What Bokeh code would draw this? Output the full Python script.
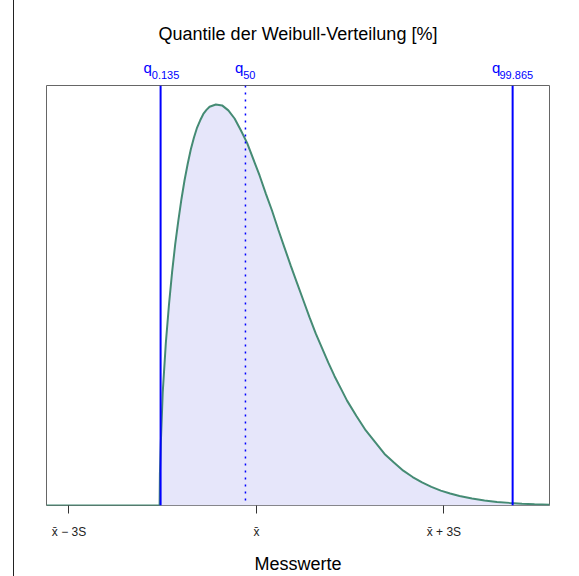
from bokeh.plotting import figure
from bokeh.models import Range1d, FixedTicker, Span, LinearAxis
from bokeh.embed import file_html
from bokeh.resources import INLINE

# Standardised measurement axis (x̄ = 0, S = 1) and density of the Weibull curve
x_vals = [-3.36, -1.55, -1.545, -1.53, -1.50, -1.45, -1.40, -1.35, -1.30, -1.25,
          -1.20, -1.15, -1.10, -1.05, -1.00, -0.95, -0.90, -0.85, -0.80, -0.75,
          -0.65, -0.55, -0.45, -0.35, -0.25, -0.15, 0.05, 0.15, 0.25, 0.35,
          0.45, 0.55, 0.65, 0.75, 0.85, 0.95, 1.05, 1.15, 1.25, 1.35,
          1.45, 1.60, 1.75, 1.90, 2.05, 2.20, 2.35, 2.50, 2.65, 2.80,
          2.95, 3.10, 3.25, 3.45, 3.65, 3.85, 4.05, 4.25, 4.45, 4.69]
density = [0.0, 0.0, 0.035, 0.07, 0.125, 0.18, 0.222, 0.258, 0.289, 0.315,
           0.339, 0.360, 0.378, 0.394, 0.407, 0.418, 0.426, 0.433, 0.4375, 0.441,
           0.4435, 0.4425, 0.437, 0.428, 0.415, 0.401, 0.365, 0.345, 0.326, 0.305,
           0.285, 0.265, 0.246, 0.227, 0.208, 0.190, 0.174, 0.158, 0.143, 0.1295,
           0.116, 0.099, 0.083, 0.070, 0.057, 0.0475, 0.0385, 0.0315, 0.0255, 0.0206,
           0.0165, 0.0132, 0.0105, 0.0078, 0.0056, 0.0040, 0.0029, 0.0020, 0.0014, 0.0009]

# Lower bound of the distribution (start of the shaded area)
threshold = -1.55

tick_positions = [-3, 0, 3]
tick_labels = ["x̄ − 3S", "x̄", "x̄ + 3S"]

quantile_names = ["0.135", "50", "99.865"]
quantile_values = [-1.534, -0.176, 4.10]

title_text = "Quantile der Weibull-Verteilung [%]"
x_label = "Messwerte"

X_MIN, X_MAX = -3.36, 4.69
Y_MAX = 0.4645
FONT = "Liberation Sans"

p = figure(width=565, height=576,
           x_range=Range1d(X_MIN, X_MAX), y_range=Range1d(0, Y_MAX),
           output_backend="svg", toolbar_location=None, y_axis_location=None,
           title_location=None,
           min_border_left=32, min_border_right=30,
           min_border_top=85, min_border_bottom=68)
p.styles = {"margin-left": "13px", "border-left": "1px solid #222"}

p.xgrid.visible = False
p.ygrid.visible = False
p.outline_line_color = "#666666"
p.outline_line_width = 1
p.background_fill_color = "white"
p.border_fill_color = "white"

# shaded area under the density
fill_x = [x for x in x_vals if x >= threshold]
fill_y = [d for x, d in zip(x_vals, density) if x >= threshold]
p.varea(x=fill_x, y1=0, y2=fill_y, fill_color="#E6E6FA")

# density curve
p.line(x_vals, density, line_color="#458B74", line_width=2)

# quantile lines
for name, q in zip(quantile_names, quantile_values):
    if name == "50":
        span = Span(location=q, dimension="height", line_color="blue",
                    line_width=1.5, line_dash="2 5")
    else:
        span = Span(location=q, dimension="height", line_color="blue", line_width=2)
    p.add_layout(span)

# x axis with symbolic tick labels
ax = p.below[0]
ax.ticker = FixedTicker(ticks=tick_positions, minor_ticks=[])
ax.major_label_overrides = dict(zip(tick_positions, tick_labels))
ax.axis_line_color = None
ax.major_tick_out = 8
ax.major_tick_in = 0
ax.major_tick_line_color = "#333333"
ax.minor_tick_out = 0
ax.minor_tick_in = 0
ax.major_label_text_font = FONT
ax.major_label_text_font_size = "12px"
ax.major_label_text_color = "#222222"
ax.major_label_standoff = 11
ax.axis_label = x_label
ax.axis_label_text_font = FONT
ax.axis_label_text_font_size = "18px"
ax.axis_label_text_font_style = "normal"
ax.axis_label_text_color = "black"
ax.axis_label_standoff = 12


def label_axis(ticks, texts, size, standoff, color):
    """Text-only axis above the frame (quantile names and heading)."""
    a = LinearAxis(ticker=FixedTicker(ticks=ticks, minor_ticks=[]))
    a.major_label_overrides = dict(zip(ticks, texts))
    a.axis_line_color = None
    a.major_tick_line_color = None
    a.major_tick_out = 0
    a.major_tick_in = 0
    a.minor_tick_out = 0
    a.minor_tick_in = 0
    a.major_label_text_font = FONT
    a.major_label_text_font_size = size
    a.major_label_text_color = color
    a.major_label_standoff = standoff
    return a


# quantile names "q" with subscript, centred over each line
px_per_unit = 503 / (X_MAX - X_MIN)
q_shift = {"0.135": -13, "50": -6.3, "99.865": -16.5}
sub_shift = {"0.135": 5, "50": 3.8, "99.865": 3.7}
sub_ticks = [round(q + sub_shift[n] / px_per_unit, 4) for n, q in zip(quantile_names, quantile_values)]
q_ticks = [round(q + q_shift[n] / px_per_unit, 4) for n, q in zip(quantile_names, quantile_values)]

p.add_layout(label_axis(sub_ticks, quantile_names, "11px", 7, "blue"), "above")
p.add_layout(label_axis(q_ticks, ["q"] * len(q_ticks), "15px", -8, "blue"), "above")

# heading, centred over the frame
x_mid = round((X_MIN + X_MAX) / 2, 4)
p.add_layout(label_axis([x_mid], [title_text], "18px", 12, "black"), "above")

open("out.html", "w").write(file_html(p, INLINE))
